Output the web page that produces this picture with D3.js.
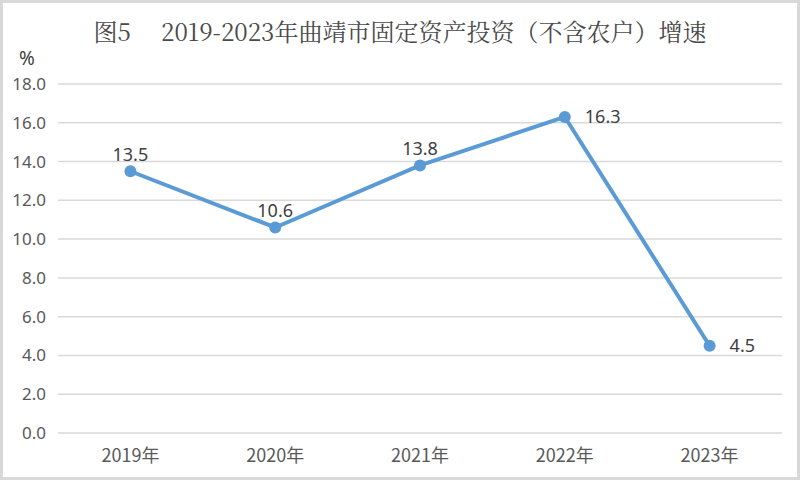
<!DOCTYPE html>
<html lang="zh">
<head>
<meta charset="utf-8">
<title>图5 曲靖市固定资产投资增速</title>
<script src="https://cdn.jsdelivr.net/npm/d3@7"></script>
<style>
  body { margin: 0; background: #fff; }
  svg { display: block; }
  .grid line { stroke: #d9d9d9; stroke-width: 1.5; }
  .tick-label { font-family: "Noto Sans", "Noto Sans CJK SC", sans-serif; font-size: 16px; fill: #595959; }
</style>
</head>
<body>
<script>
// data
var years = ["2019年", "2020年", "2021年", "2022年", "2023年"];
var growth = [13.5, 10.6, 13.8, 16.3, 4.5];
var yTicks = [0, 2, 4, 6, 8, 10, 12, 14, 16, 18];
var labelPos = ["top", "top", "top", "right", "right"];

var w = 800, h = 480;
var svg = d3.select("body").append("svg")
    .attr("width", w)
    .attr("height", h);

// light frame round the picture
svg.append("rect")
    .attr("x", 1.5).attr("y", 1.5)
    .attr("width", w - 3).attr("height", h - 3)
    .attr("fill", "#fff")
    .attr("stroke", "#d9d9d9")
    .attr("stroke-width", 3);

var xScale = d3.scaleBand()
    .domain(years)
    .range([58, 782]);

var yScale = d3.scaleLinear()
    .domain([0, 18])
    .range([433, 84]);

// title
svg.append("text")
    .attr("x", 400)
    .attr("y", 41)
    .attr("text-anchor", "middle")
    .style("font-family", "'Noto Serif CJK SC', 'Noto Sans CJK SC', serif")
    .style("font-size", "24px")
    .style("fill", "#4a4a4a")
    .text("图5\u2003 2019-2023年曲靖市固定资产投资（不含农户）增速");

// unit
svg.append("text")
    .attr("x", 19)
    .attr("y", 65)
    .attr("class", "tick-label")
    .style("font-size", "19px")
    .style("fill", "#404040")
    .text("%");

// gridlines
svg.append("g")
    .attr("class", "grid")
    .selectAll("line")
    .data(yTicks)
    .enter()
    .append("line")
    .attr("x1", xScale.range()[0])
    .attr("x2", xScale.range()[1])
    .attr("y1", function(d) { return yScale(d); })
    .attr("y2", function(d) { return yScale(d); });

// y axis labels
var yAxis = d3.axisLeft(yScale)
    .tickValues(yTicks)
    .tickSize(0)
    .tickPadding(0)
    .tickFormat(d3.format(".1f"));

svg.append("g")
    .attr("transform", "translate(46,0)")
    .call(yAxis)
    .call(function(g) { g.select(".domain").remove(); })
    .selectAll("text")
    .attr("class", "tick-label")
    .style("font-size", "17px");

// x axis labels
var xAxis = d3.axisBottom(xScale)
    .tickSize(0)
    .tickPadding(0);

svg.append("g")
    .attr("transform", "translate(0,449)")
    .call(xAxis)
    .call(function(g) { g.select(".domain").remove(); })
    .selectAll("text")
    .attr("class", "tick-label")
    .style("font-family", "'Noto Sans CJK SC', sans-serif")
    .style("font-size", "18px");

// line
var points = years.map(function(y, i) {
    return { year: y, value: growth[i], pos: labelPos[i] };
});

var line = d3.line()
    .x(function(d) { return xScale(d.year) + xScale.bandwidth() / 2; })
    .y(function(d) { return yScale(d.value); });

svg.append("path")
    .datum(points)
    .attr("d", line)
    .attr("fill", "none")
    .attr("stroke", "#5b9bd5")
    .attr("stroke-width", 4)
    .attr("stroke-linejoin", "round");

svg.selectAll("circle.pt")
    .data(points)
    .enter()
    .append("circle")
    .attr("class", "pt")
    .attr("cx", function(d) { return xScale(d.year) + xScale.bandwidth() / 2; })
    .attr("cy", function(d) { return yScale(d.value); })
    .attr("r", 6)
    .attr("fill", "#5b9bd5");

// data labels
svg.selectAll("text.val")
    .data(points)
    .enter()
    .append("text")
    .attr("class", "val tick-label")
    .style("font-size", "18px")
    .style("fill", "#404040")
    .attr("text-anchor", function(d) { return d.pos === "top" ? "middle" : "start"; })
    .attr("x", function(d) {
        var cx = xScale(d.year) + xScale.bandwidth() / 2;
        return d.pos === "top" ? cx : cx + 20;
    })
    .attr("y", function(d) {
        var cy = yScale(d.value);
        return d.pos === "top" ? cy - 10 : cy + 6;
    })
    .text(function(d) { return d3.format(".1f")(d.value); });
</script>
</body>
</html>
